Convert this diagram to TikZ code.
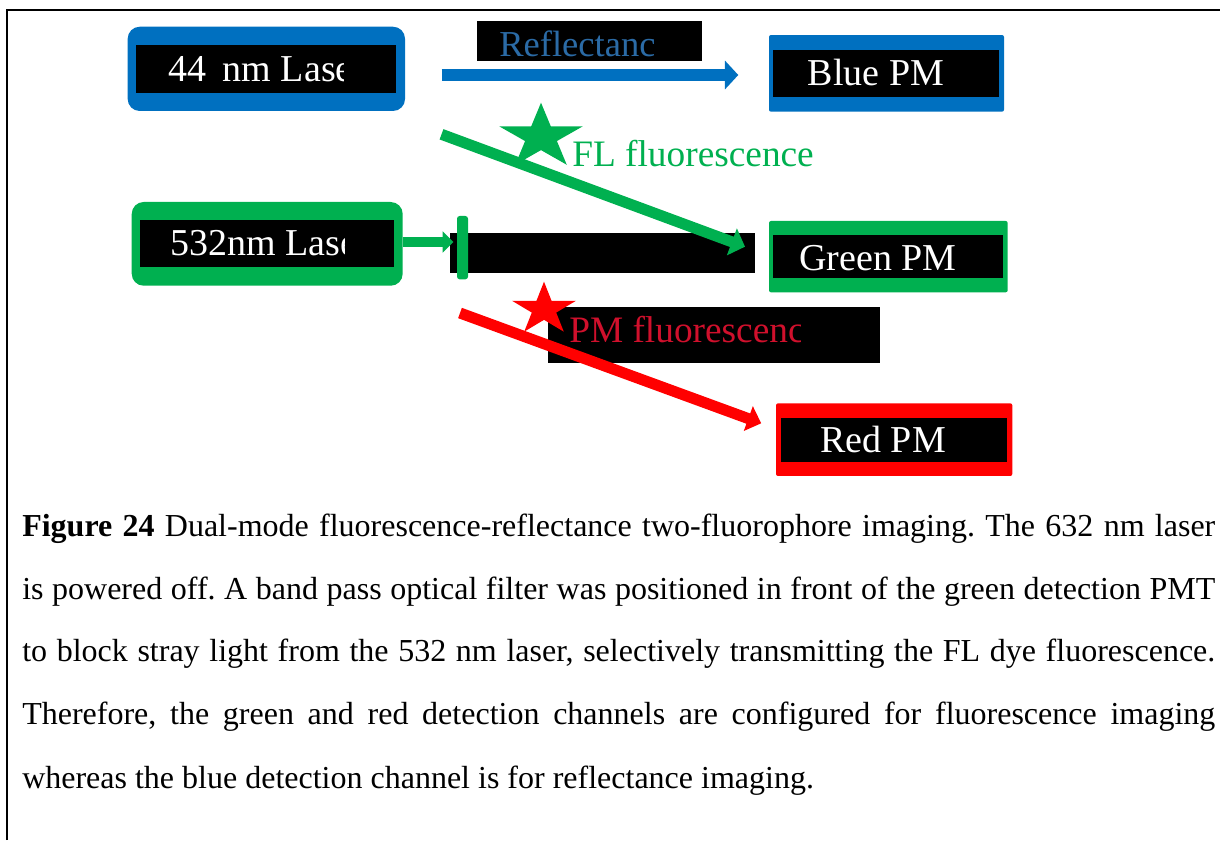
\documentclass[tikz,border=0pt]{standalone}
\usepackage{fontspec}
\setmainfont{Liberation Serif}
\usetikzlibrary{arrows.meta}

\definecolor{lsblue}{HTML}{0070C0}
\definecolor{lsgreen}{HTML}{00B050}
\definecolor{lsred}{HTML}{FF0000}
\definecolor{refltext}{HTML}{2B6BA6}
\definecolor{pmtext}{HTML}{D0102C}

\tikzset{
  laserframe/.style={rounded corners=9pt, inner sep=0pt},
  pmframe/.style={rounded corners=1.5pt, inner sep=0pt},
  blackpanel/.style={fill=black, inner sep=0pt},
  boxlabel/.style={text=white, inner sep=0pt, anchor=base west,
    font=\fontsize{28.5pt}{30pt}\selectfont},
  beamlabel/.style={inner sep=0pt, anchor=base west,
    font=\fontsize{28pt}{30pt}\selectfont},
  captionline/.style={inner sep=0pt, anchor=base west,
    font=\fontsize{24pt}{26pt}\selectfont\frenchspacing},
  bluebeam/.style={lsblue, line width=9.5pt, -{Triangle[length=10pt, width=21pt]}},
  greenbeam/.style={lsgreen, line width=8.25pt, -{Triangle[length=10.5pt, width=21pt]}},
  shortbeam/.style={lsgreen, line width=7.1pt, -{Triangle[length=8pt, width=15.5pt]}},
  redbeam/.style={lsred, line width=8.25pt, -{Triangle[length=10.3pt, width=19.2pt]}},
}

\newcommand{\starpath}{(90:1) -- (126:0.382) -- (162:1) -- (198:0.382) -- (234:1) -- (270:0.382) -- (306:1) -- (342:0.382) -- (18:1) -- (54:0.382) -- cycle}

\begin{document}
\begin{tikzpicture}[x=0.75pt, y=-0.75pt]
\useasboundingbox (0,0) rectangle (1220,840);

% frame
\draw[line width=1.65pt] (7,840) -- (7,10) -- (1220,10);

% lasers
\node[laserframe, fill=lsblue, minimum width=208pt, minimum height=63.2pt] (blueLaser) at (266.35,68.85) {};
\node[blackpanel, minimum width=195pt, minimum height=35.8pt] (blueLaserPanel) at (266,68.85) {};
\begin{scope}
  \clip (136,45) rectangle (343,93);
  \node[boxlabel] (blueLaserText) at (168,81) {44\hspace{12.5pt}nm Lase};
\end{scope}

\node[laserframe, fill=lsgreen, minimum width=203.25pt, minimum height=62.8pt] (greenLaser) at (267.2,243.85) {};
\node[blackpanel, minimum width=190.5pt, minimum height=35pt] (greenLaserPanel) at (267,243.35) {};
\begin{scope}
  \clip (140,220) rectangle (344,267);
  \node[boxlabel] (greenLaserText) at (170,255) {532nm Lase};
\end{scope}

% detectors
\node[pmframe, fill=lsblue, minimum width=176.25pt, minimum height=57.5pt] (bluePM) at (886.5,73.35) {};
\node[blackpanel, minimum width=169.3pt, minimum height=35pt] (bluePMPanel) at (886.15,73.35) {};
\node[boxlabel] (bluePMText) at (807.7,85) {Blue PM};

\node[pmframe, fill=lsgreen, minimum width=179pt, minimum height=53.5pt] (greenPM) at (888.35,256.65) {};
\node[blackpanel, minimum width=172.5pt, minimum height=32pt] (greenPMPanel) at (888.3,256.35) {};
\node[boxlabel] (greenPMText) at (799,270) {Green PM};

\node[pmframe, fill=lsred, minimum width=177.2pt, minimum height=54.5pt] (redPM) at (894.15,439.65) {};
\node[blackpanel, minimum width=169.3pt, minimum height=33pt] (redPMPanel) at (893.85,439.7) {};
\node[boxlabel] (redPMText) at (820,452.7) {Red PM};

% beam labels
\node[blackpanel, minimum width=168.3pt, minimum height=30pt] (reflPanel) at (589.5,41) {};
\begin{scope}
  \clip (477,21) rectangle (653,61);
  \node[beamlabel, text=refltext, font=\fontsize{27.4pt}{29pt}\selectfont] (reflText) at (499,56) {Reflectanc};
\end{scope}

\node[beamlabel, text=lsgreen] (flText) at (572,166.5) {FL fluorescence};

\node[blackpanel, minimum width=249pt, minimum height=42pt] (pmPanel) at (714,335.3) {};
\begin{scope}
  \clip (548,307) rectangle (800,364);
  \node[beamlabel, text=pmtext] (pmText) at (569,342.7) {PM fluorescenc};
\end{scope}

% filter in front of the green channel
\node[blackpanel, minimum width=228.75pt, minimum height=29.55pt] (stopBar) at (602.5,253) {};

% fluorophore stars
\begin{scope}[shift={(541,137)}, x=32.85pt, y=25.725pt]
  \fill[lsgreen] \starpath;
\end{scope}
\begin{scope}[shift={(544,309.3)}, x=25.2pt, y=20.7pt]
  \fill[lsred] \starpath;
\end{scope}

% beams
\coordinate (reflStart) at (441.7,75);
\coordinate (reflEnd) at (738.3,75);
\draw[bluebeam] (reflStart) -- (reflEnd);

\coordinate (exStart) at (402.7,242);
\coordinate (exEnd) at (453.3,242);
\draw[shortbeam] (exStart) -- (exEnd);

\node[fill=lsgreen, rounded corners=2pt, inner sep=0pt, minimum width=8.25pt, minimum height=47.5pt] (filter) at (462.5,247.65) {};

\coordinate (flStart) at (441.5,134.3);
\coordinate (flEnd) at (745,246.7);
\draw[greenbeam] (flStart) -- (flEnd);

\coordinate (pmStart) at (460,313);
\coordinate (pmEnd) at (761.2,423.3);
\draw[redbeam] (pmStart) -- (pmEnd);

% caption
\node[captionline] (cap1) at (22,536) {\makebox[894.75pt][s]{\textbf{Figure 24} Dual-mode fluorescence-reflectance two-fluorophore imaging. The 632 nm laser}};
\node[captionline] (cap2) at (22,599) {\makebox[894.75pt][s]{is powered off. A band pass optical filter was positioned in front of the green detection PMT}};
\node[captionline] (cap3) at (22,661) {\makebox[894.75pt][s]{to block stray light from the 532 nm laser, selectively transmitting the FL dye fluorescence.}};
\node[captionline] (cap4) at (22,724) {\makebox[894.75pt][s]{Therefore, the green and red detection channels are configured for fluorescence imaging}};
\node[captionline] (cap5) at (22,788) {whereas the blue detection channel is for reflectance imaging.};
\end{tikzpicture}
\end{document}
